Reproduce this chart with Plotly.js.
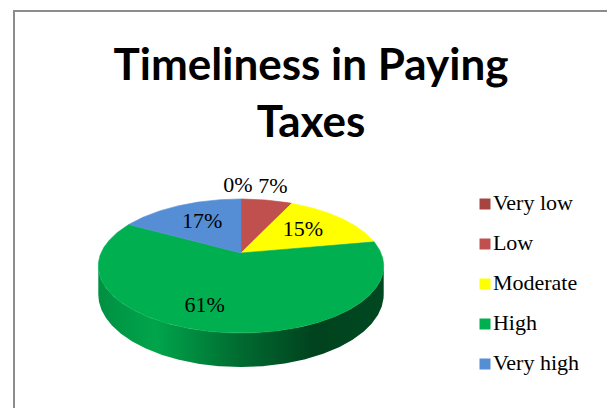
<!DOCTYPE html>
<html>
<head>
<meta charset="utf-8">
<script src="https://cdn.plot.ly/plotly-3.0.1.min.js"></script>
<style>html,body{margin:0;padding:0;background:#fff;}#chart{width:607px;height:408px;}</style>
</head>
<body>
<div id="chart"></div>
<script>
// ---- data ----
const categories = ['Very low', 'Low', 'Moderate', 'High', 'Very high'];
const values = [0, 7, 15, 61, 17];
const colors = ['#A8443F', '#C0504D', '#FFFF00', '#00B050', '#558ED5'];
const titleText = 'Timeliness in Paying<br>Taxes';

// ---- 3D pie projection (style/geometry constants) ----
const CX = 241, CY = 253, A = 140, B = 64.5, P = 0.194, H = 27.4;
function proj(theta, f, drop) {
  const u = f * Math.sin(theta), v = f * Math.cos(theta);
  const d = 1 + P * v;
  return [CX + A * u / d, CY - B * v / d + (drop ? H / d : 0)];
}
function shade(hex, k) {
  const n = parseInt(hex.slice(1), 16);
  const r = Math.round(((n >> 16) & 255) * k), g = Math.round(((n >> 8) & 255) * k), b = Math.round((n & 255) * k);
  return 'rgb(' + r + ',' + g + ',' + b + ')';
}

const total = values.reduce((a, b) => a + b, 0);
const starts = [];
let acc = 0;
values.forEach(v => { starts.push(acc / total * 2 * Math.PI); acc += v; });

const traces = [];
const step = Math.PI / 360;
// side walls (front visible half)
const visR = Math.acos(-P), visL = 2 * Math.PI - visR;
values.forEach((v, i) => {
  if (v <= 0) return;
  const a0 = starts[i], a1 = starts[i] + v / total * 2 * Math.PI;
  const s = Math.max(a0, visR), e = Math.min(a1, visL);
  if (e <= s) return;
  const xs = [], ys = [];
  for (let t = s; t < e; t += step) { const p = proj(t, 1, false); xs.push(p[0]); ys.push(p[1]); }
  let p = proj(e, 1, false); xs.push(p[0]); ys.push(p[1]);
  for (let t = e; t > s; t -= step) { const q = proj(t, 1, true); xs.push(q[0]); ys.push(q[1]); }
  p = proj(s, 1, true); xs.push(p[0]); ys.push(p[1]);
  traces.push({
    type: 'scatter', x: xs, y: ys, mode: 'lines', fill: 'toself',
    line: {width: 0}, hoverinfo: 'skip', showlegend: false,
    fillgradient: {type: 'horizontal', colorscale: [
      [0, shade(colors[i], 0.82)], [0.2, shade(colors[i], 0.94)], [0.5, shade(colors[i], 0.6)],
      [0.75, shade(colors[i], 0.38)], [1, shade(colors[i], 0.41)]]}
  });
});
// top faces
values.forEach((v, i) => {
  if (v <= 0) return;
  const a0 = starts[i], a1 = starts[i] + v / total * 2 * Math.PI;
  const xs = [CX], ys = [CY];
  for (let t = a0; t < a1; t += step) { const p = proj(t, 1, false); xs.push(p[0]); ys.push(p[1]); }
  const p = proj(a1, 1, false); xs.push(p[0]); ys.push(p[1]);
  xs.push(CX); ys.push(CY);
  traces.push({
    type: 'scatter', x: xs, y: ys, mode: 'lines', fill: 'toself', fillcolor: colors[i],
    line: {width: 0.6, color: colors[i]}, hoverinfo: 'skip', showlegend: false, name: categories[i]
  });
});
// percentage labels
const lx = [], ly = [], lt = [];
values.forEach((v, i) => {
  const mid = starts[i] + v / total * Math.PI;
  const big = v / total > 0.5;
  const f = v / total < 0.1 ? 1.3 : (big ? 0.72 : 0.6);
  const p = proj(mid, f, false);
  lx.push(p[0] - (big ? 18 : 0) - (v === 0 ? 3 : 0)); ly.push(p[1]);
  lt.push(Math.round(v / total * 100) + '%');
});
traces.push({
  type: 'scatter', x: lx, y: ly, text: lt, mode: 'text', hoverinfo: 'skip', showlegend: false,
  textfont: {family: 'Liberation Serif, Times New Roman, serif', size: 22, color: '#000'}
});
// legend (drawn as markers + text)
traces.push({
  type: 'scatter', mode: 'markers+text', showlegend: false, hoverinfo: 'skip',
  x: categories.map(() => 485), y: categories.map((c, i) => 204 + 40 * i),
  text: categories, textposition: 'middle right',
  marker: {symbol: 'square', size: 11, color: colors, line: {width: 0}},
  textfont: {family: 'Liberation Serif, Times New Roman, serif', size: 22, color: '#000'}
});

const layout = {
  width: 607, height: 408,
  margin: {l: 0, r: 0, t: 0, b: 0},
  paper_bgcolor: '#fff', plot_bgcolor: '#fff',
  showlegend: false,
  title: {
    text: titleText, x: 311 / 607, xanchor: 'center', y: 1 - 80 / 408, yanchor: 'top',
    font: {family: 'Lato, sans-serif', size: 44, weight: 700, color: '#000'}
  },
  xaxis: {range: [0, 607], visible: false, fixedrange: true},
  yaxis: {range: [408, 0], visible: false, fixedrange: true},
  shapes: [{type: 'rect', xref: 'x', yref: 'y', x0: 14, y0: 11, x1: 640, y1: 440,
    line: {color: '#8C8C8C', width: 2}, fillcolor: 'rgba(0,0,0,0)', layer: 'below'}]
};
Plotly.newPlot('chart', traces, layout, {staticPlot: true, displayModeBar: false});
</script>
</body>
</html>
